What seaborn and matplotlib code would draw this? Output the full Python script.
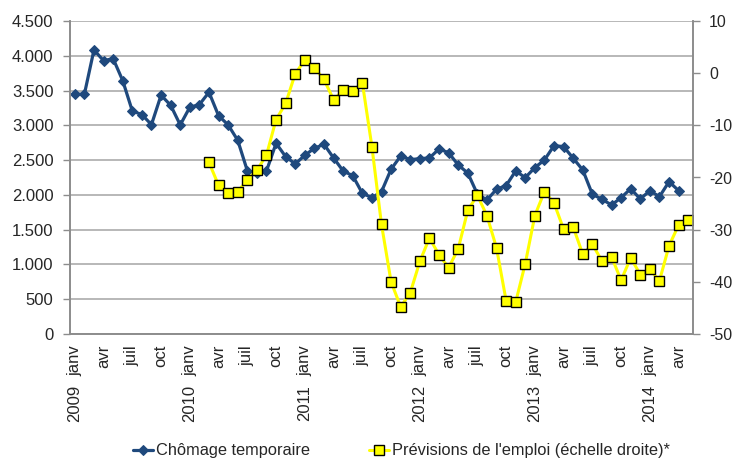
#################################
# Chomage temporaire vs previsions de l'emploi
#################################

import numpy as np
import pandas as pd
import matplotlib
matplotlib.use("Agg")
import matplotlib.pyplot as plt
import seaborn as sns
from matplotlib.ticker import FixedLocator, FuncFormatter, MultipleLocator

sns.set_style('white')

#################################
# DATA
#################################

years = [2009, 2010, 2011, 2012, 2013, 2014]
month_names = {0: "janv", 3: "avr", 6: "juil", 9: "oct"}
n_months = 65                                      # 2009 janv -> 2014 mai

# Chomage temporaire (left axis), 2009 janv -> 2014 avr
chomage = [
    3447, 3447, 4084, 3930, 3959, 3643, 3207, 3154, 3010, 3433, 3289, 3006,
    3260, 3298, 3476, 3139, 3006, 2785, 2348, 2311, 2344, 2742, 2550, 2445,
    2570, 2670, 2728, 2531, 2344, 2276, 2023, 1960, 2046, 2368, 2560, 2507,
    2521, 2531, 2660, 2607, 2430, 2315, 2013, 1927, 2081, 2133, 2344, 2248,
    2392, 2502, 2708, 2694, 2527, 2358, 2009, 1937, 1855, 1960, 2089, 1941,
    2061, 1974, 2190, 2061,
]

# Previsions de l'emploi (right axis), 2010 mars -> 2014 mai
previsions_start = 14
previsions = [
    -17.1, -21.5, -22.9, -22.7, -20.5, -18.6, -15.7, -8.9, -5.8, -0.1,
    2.5, 1.0, -1.2, -5.1, -3.3, -3.5, -1.8, -14.1, -29.0, -40.0, -44.8, -42.1,
    -36.1, -31.6, -34.8, -37.3, -33.7, -26.3, -23.4, -27.3, -33.5, -43.6, -43.9, -36.5,
    -27.3, -22.7, -24.9, -29.9, -29.5, -34.7, -32.8, -36.0, -35.2, -39.7, -35.4, -38.6,
    -37.6, -39.8, -33.1, -29.1, -28.2,
]

df_cho = pd.DataFrame({"idx": np.arange(len(chomage)), "val": chomage})
df_prev = pd.DataFrame({"idx": np.arange(previsions_start, previsions_start + len(previsions)),
                        "val": previsions})

plt.rcParams['font.family'] = ['Liberation Sans', 'DejaVu Sans']
plt.rcParams['axes.unicode_minus'] = False        # plain hyphen like the original

#################################
# PLOT
#################################
fig, ax = plt.subplots(figsize=(7.35, 4.62), dpi=100)
fig.subplots_adjust(left=70/735, right=693/735, top=1-21/462, bottom=1-334/462)
ax2 = ax.twinx()

grey = "#8C8C8C"
blue = "#1F497D"

sns.lineplot(data=df_cho, x="idx", y="val", ax=ax, color=blue, lw=2.3,
             marker="D", markersize=5.5, markeredgecolor=blue,
             label="Chômage temporaire", legend=False)
sns.lineplot(data=df_prev, x="idx", y="val", ax=ax2, color="#FFFF00", lw=2.2,
             marker="s", markersize=7, markerfacecolor="#FFFF00",
             markeredgecolor="black", markeredgewidth=1.0,
             label="Prévisions de l'emploi (échelle droite)*", legend=False)

# Left axis
ax.set_ylim(0, 4500)
ax.yaxis.set_major_locator(MultipleLocator(500))
ax.yaxis.set_major_formatter(FuncFormatter(lambda v, p: f"{v:,.0f}".replace(",", ".")))
ax.yaxis.grid(True, color="#ABABAB", lw=1.2)
ax.set_axisbelow(True)

# Right axis
ax2.set_ylim(-50, 10)
ax2.yaxis.set_major_locator(MultipleLocator(10))
ax2.grid(False)

# Category axis
ax.set_xlim(-0.5, n_months - 0.5)
ax.xaxis.set_minor_locator(FixedLocator(np.arange(-0.5, n_months, 1)))
ax.xaxis.set_major_locator(FixedLocator(np.arange(n_months)))
ax.set_xticklabels([month_names.get(i % 12, "") for i in range(n_months)],
                   rotation=90, fontsize=12, va="top", ha="center")
ax.tick_params(axis="x", which="major", length=0, pad=8)
ax.tick_params(axis="x", which="minor", length=5, width=1, color=grey, direction="out")
ax.tick_params(axis="y", length=5, width=1, color=grey, pad=7, labelsize=12)
ax2.tick_params(axis="y", length=5, width=1, color=grey, pad=6.5, labelsize=11.5)

for i, yr in enumerate(years):
    ax.annotate(str(yr), xy=(i * 12, 0), xycoords=("data", "axes fraction"),
                xytext=(0, -51), textcoords="offset pixels", rotation=90,
                ha="center", va="top", fontsize=12)

for a in (ax, ax2):
    a.set_xlabel("")
    a.set_ylabel("")
    a.spines["top"].set_visible(False)
    for s in ("left", "right", "bottom"):
        a.spines[s].set_color(grey)
        a.spines[s].set_linewidth(1.2)

# Legend below the chart
h1, l1 = ax.get_legend_handles_labels()
h2, l2 = ax2.get_legend_handles_labels()
fig.legend(h1 + h2, l1 + l2, loc="center", bbox_to_anchor=(0.546, 0.024), ncol=2,
           frameon=False, handlelength=1.25, handletextpad=0.15, columnspacing=3.6,
           prop={"size": 11.8})

plt.savefig("out.png", dpi=100)
